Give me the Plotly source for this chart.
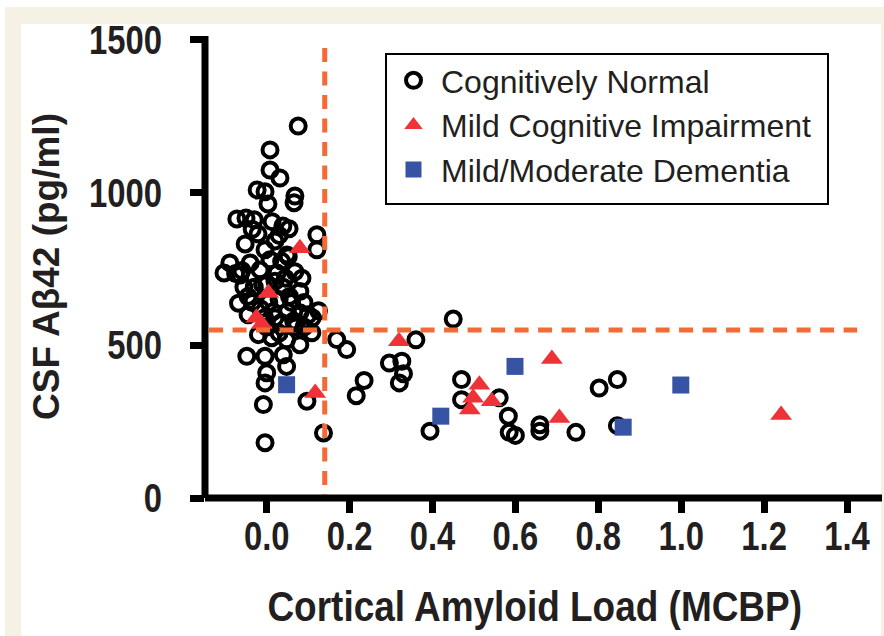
import plotly.graph_objects as go

# ---------------- data ----------------
cn_x = [0.076, 0.008, 0.008, 0.032, -0.023, -0.004, 0.068, 0.066, 0.003, -0.072,
        -0.050, -0.030, 0.013, 0.039, 0.054, -0.021, 0.121, -0.052, 0.020, 0.121,
        -0.089, -0.103, -0.040, 0.008, 0.068, 0.025, -0.064, -0.016, 0.049, -0.004,
        -0.075, -0.068, 0.080, 0.080, 0.040, 0.020, -0.030, -0.045, 0.005, 0.030,
        0.060, 0.050, 0.015, -0.015, -0.045, 0.065, 0.035, 0.000, 0.100, -0.020,
        0.012, 0.048, 0.080, 0.109, 0.169, 0.193, -0.048, -0.004, 0.040, 0.048,
        0.000, -0.004, -0.008, -0.004, 0.097, 0.137, 0.216, 0.235, 0.296, 0.326,
        0.330, 0.320, 0.450, 0.360, 0.470, 0.470, 0.561, 0.583, 0.585, 0.600,
        0.394, 0.659, 0.659, 0.746, 0.802, 0.846, 0.846, 0.036, -0.060, 0.052,
        0.125, -0.035, 0.030, 0.090, -0.010, 0.055, 0.090, 0.110, 0.020, -0.035,
        0.070, 0.030, -0.005, 0.045, 0.085, -0.055, 0.000, 0.072]
cn_y = [1218, 1140, 1074, 1048, 1009, 1003, 989, 967, 963, 914,
        917, 911, 905, 891, 882, 865, 862, 832, 842, 813,
        770, 737, 770, 780, 741, 737, 730, 747, 796, 813,
        735, 638, 676, 607, 690, 710, 690, 660, 640, 650,
        640, 610, 610, 620, 600, 580, 575, 560, 600, 535,
        525, 518, 502, 541, 519, 486, 464, 464, 469, 431,
        410, 377, 306, 181, 317, 213, 335, 385, 442, 448,
        407, 377, 586, 518, 388, 322, 328, 268, 215, 205,
        219, 240, 219, 215, 360, 388, 237, 775, 745, 790,
        613, 880, 860, 560, 700, 660, 640, 590, 590, 640,
        560, 540, 590, 720, 720, 690, 700, 572]

mci_x = [0.080, 0.004, -0.025, -0.012, 0.117, 0.319, 0.513, 0.498, 0.490, 0.543,
         0.688, 0.706, 1.241]
mci_y = [818, 671, 590, 570, 344, 513, 371, 328, 290, 317,
         455, 262, 272]

dem_x = [0.048, 0.420, 0.599, 0.860, 0.999]
dem_y = [371, 268, 431, 232, 370]

x_tick_vals = [0.0, 0.2, 0.4, 0.6, 0.8, 1.0, 1.2, 1.4]
x_tick_text = ["0.0", "0.2", "0.4", "0.6", "0.8", "1.0", "1.2", "1.4"]
y_tick_vals = [0, 500, 1000, 1500]
y_tick_text = ["0", "500", "1000", "1500"]

amyloid_cutoff = 0.14
csf_cutoff = 550

# ---------------- styling ----------------
W, H = 884, 636
ML, MR, MT, MB = 205, 2, 36, 138
PW, PH = W - ML - MR, H - MT - MB


def px_x(p):
    return (p - ML) / PW


def px_y(q):
    return (H - MB - q) / PH


BEIGE = "#F5F1E4"
ORANGE = "#F36A36"
RED = "#EE3238"
BLUE = "#3753A4"
TXT = "#231F20"
SANS = "Liberation Sans, Arial, sans-serif"

fig = go.Figure()
fig.add_trace(go.Scatter(
    x=cn_x, y=cn_y, mode="markers", name="Cognitively Normal",
    marker=dict(symbol="circle-open", size=15, color="black",
                line=dict(color="black", width=4))))
fig.add_trace(go.Scatter(
    x=mci_x, y=mci_y, mode="markers", name="Mild Cognitive Impairment",
    marker=dict(symbol="triangle-up", size=19, color=RED, line=dict(width=0))))
fig.add_trace(go.Scatter(
    x=dem_x, y=dem_y, mode="markers", name="Mild/Moderate Dementia",
    marker=dict(symbol="square", size=17, color=BLUE, line=dict(width=0))))

x_range = [(ML - 266.7) / 414.5, (W - MR - 266.7) / 414.5]
y_range = [0, 1513]

shapes = [
    # beige frame and white panel
    dict(type="rect", xref="paper", yref="paper", layer="below",
         x0=px_x(5), x1=px_x(W), y0=px_y(H), y1=px_y(7),
         fillcolor=BEIGE, line=dict(width=0)),
    dict(type="rect", xref="paper", yref="paper", layer="below",
         x0=px_x(21), x1=px_x(881), y0=px_y(H), y1=px_y(24),
         fillcolor="white", line=dict(width=0)),
    # threshold lines
    dict(type="line", xref="x", yref="y", x0=amyloid_cutoff, x1=amyloid_cutoff,
         y0=1474, y1=0, line=dict(color=ORANGE, width=5, dash="14px,9.5px")),
    dict(type="line", xref="x", yref="y", x0=-0.139, x1=1.4245,
         y0=csf_cutoff, y1=csf_cutoff,
         line=dict(color=ORANGE, width=5, dash="14px,9.5px")),
    # axis lines
    dict(type="line", xref="paper", yref="paper", x0=0, x1=1, y0=0, y1=0,
         line=dict(color="black", width=7)),
    dict(type="line", xref="paper", yref="paper", x0=0, x1=0, y0=0, y1=1,
         line=dict(color="black", width=7)),
    # legend frame
    dict(type="rect", xref="paper", yref="paper", layer="above",
         x0=px_x(386), x1=px_x(828), y0=px_y(204), y1=px_y(54),
         fillcolor="white", line=dict(color="black", width=2)),
]

fig.update_layout(
    width=W, height=H,
    margin=dict(l=ML, r=MR, t=MT, b=MB, pad=0),
    paper_bgcolor="white", plot_bgcolor="white",
    shapes=shapes,
    showlegend=True,
    legend=dict(x=px_x(386), y=px_y(53), xanchor="left", yanchor="top",
                borderwidth=0, bgcolor="rgba(0,0,0,0)",
                font=dict(family=SANS, size=32, color=TXT),
                itemwidth=45),
    annotations=[
        dict(text="Cortical Amyloid Load (MCBP)", xref="paper", yref="paper",
             x=px_x(534), y=px_y(606), xanchor="center", yanchor="middle",
             showarrow=False,
             font=dict(family=SANS, size=42, color=TXT, weight="bold")),
        dict(text="CSF A\u03b242 (pg/ml)", xref="paper", yref="paper",
             x=px_x(46), y=px_y(267), xanchor="center", yanchor="middle",
             textangle=-90, showarrow=False,
             font=dict(family=SANS, size=37, color=TXT, weight="bold")),
    ],
)

fig.update_xaxes(range=x_range, showline=False, zeroline=False, showgrid=False,
                 tickmode="array", tickvals=x_tick_vals, ticktext=x_tick_text,
                 ticks="outside", ticklen=14, tickwidth=7, tickcolor="black",
                 ticklabelstandoff=-11,
                 tickfont=dict(family=SANS, size=40, color=TXT, weight="bold"))
fig.update_yaxes(range=y_range, showline=False, zeroline=False, showgrid=False,
                 tickmode="array", tickvals=y_tick_vals, ticktext=y_tick_text,
                 ticks="outside", ticklen=14, tickwidth=7, tickcolor="black",
                 ticklabelstandoff=20,
                 tickfont=dict(family=SANS, size=40, color=TXT, weight="bold"))

# page without the default body margin; condensed look for the bold labels
post = """
document.body.style.margin = '0';
var gd = document.getElementById('{plot_id}');
function squeeze(nodes, f) {
  nodes.forEach(function (t) {
    var w = t.getComputedTextLength();
    t.setAttribute('textLength', (w * f).toFixed(1));
    t.setAttribute('lengthAdjust', 'spacingAndGlyphs');
  });
}
squeeze(gd.querySelectorAll('.xtick text, .ytick text'), 0.82);
var ann = gd.querySelectorAll('.annotation-text');
if (ann.length) { squeeze([ann[0]], 0.88); }
"""

fig.write_html("out.html", post_script=post,
               config={"displayModeBar": False})
